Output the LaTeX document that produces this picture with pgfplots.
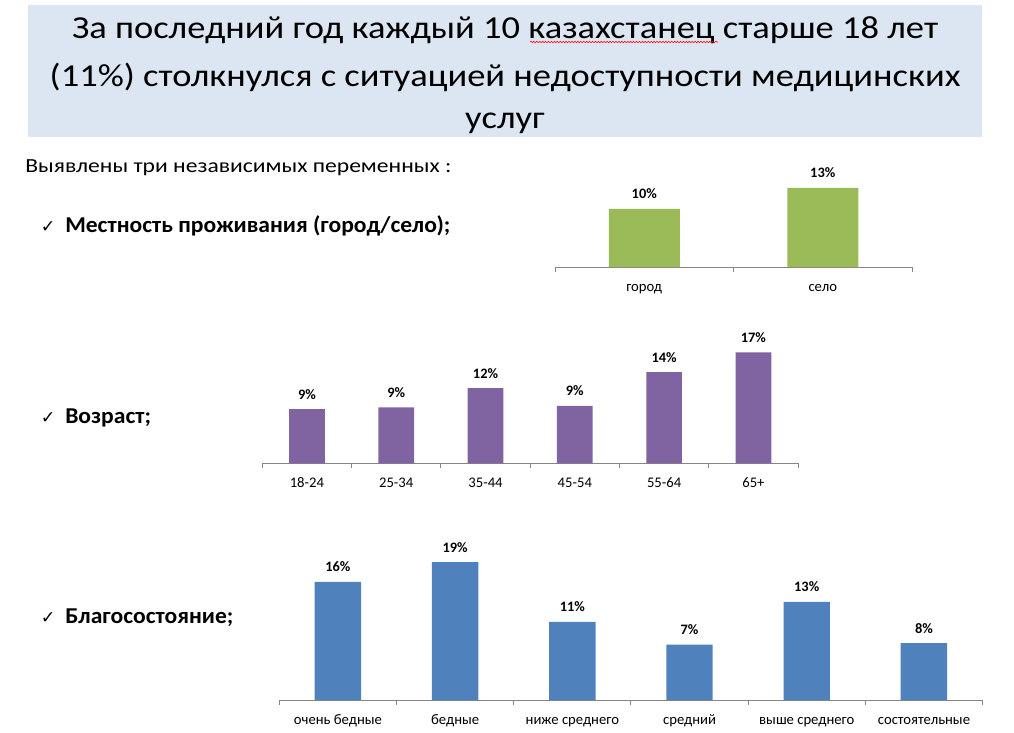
\documentclass[border=0pt]{standalone}
\usepackage{fontspec}
\setmainfont{Carlito}
\newfontfamily\dejavu{DejaVu Sans}
\usepackage{graphicx}
\usepackage{pgfplots}
\pgfplotsset{compat=1.18}
\usetikzlibrary{decorations.pathmorphing}
\definecolor{titlebg}{RGB}{220,230,242}
\definecolor{axisgray}{RGB}{134,134,134}
\definecolor{bargreen}{RGB}{155,187,89}
\definecolor{barpurple}{RGB}{128,100,162}
\definecolor{barblue}{RGB}{79,129,189}
\pgfplotsset{
  catbar/.style={
    ybar, anchor=south west, clip=false,
    ymin=0,
    axis x line*=bottom, axis y line=none,
    axis line style={color=axisgray, line width=0.75pt},
    major tick length=0pt, minor tick length=3.5pt, tick align=outside,
    tick style={color=axisgray, line width=0.75pt},
    xticklabel style={font=\fontsize{11pt}{13pt}\selectfont, anchor=base, yshift=-18pt},
    nodes near coords, point meta=explicit symbolic,
    nodes near coords style={font=\bfseries\fontsize{10.8pt}{12pt}\selectfont, anchor=base, yshift=7.5pt, color=black},
  }
}
\newcommand{\titleline}[1]{\scalebox{1.14}[1]{\fontsize{24pt}{28pt}\selectfont #1}}
\newcommand{\bullettext}[1]{\scalebox{1.04}[1]{\fontsize{17pt}{19pt}\selectfont\bfseries #1}}
\newcommand{\checkmk}{{\dejavu\fontsize{13pt}{15pt}\selectfont ✓}}
\begin{document}
\begin{tikzpicture}
\useasboundingbox (0,0) rectangle (760.5pt,-549pt);
% title box
\fill[titlebg] (21pt,-3.75pt) rectangle (736.5pt,-102.75pt);
\node[anchor=base, inner sep=0pt] at (378.75pt,-28.5pt) {\titleline{За последний год каждый 10 казахстанец старше 18 лет}};
\node[anchor=base, inner sep=0pt] at (378.75pt,-64.5pt) {\titleline{(11\%) столкнулся с ситуацией недоступности медицинских}};
\node[anchor=base, inner sep=0pt] at (378.75pt,-96pt) {\titleline{услуг}};
\draw[red, line width=0.4pt, decorate, decoration={snake, amplitude=0.6pt, segment length=2.2pt}] (397.5pt,-31.5pt) -- (538.5pt,-31.5pt);
% texts
\node[anchor=base west, inner sep=0pt] at (18.75pt,-129pt) {\scalebox{1.18}[1]{\fontsize{15pt}{17pt}\selectfont Выявлены три независимых переменных :}};
\node[anchor=base west, inner sep=0pt] at (30.5pt,-174pt) {\checkmk};
\node[anchor=base west, inner sep=0pt] at (48.75pt,-174pt) {\bullettext{Местность проживания (город/село);}};
\node[anchor=base west, inner sep=0pt] at (30.5pt,-317.25pt) {\checkmk};
\node[anchor=base west, inner sep=0pt] at (48.75pt,-317.25pt) {\bullettext{Возраст;}};
\node[anchor=base west, inner sep=0pt] at (30.5pt,-467.25pt) {\checkmk};
\node[anchor=base west, inner sep=0pt] at (48.75pt,-467.25pt) {\bullettext{Благосостояние;}};

% chart 1: place of residence
\begin{axis}[catbar,
  at={(416.25pt,-200.25pt)},
  x=133.875pt, y=4.5pt, xmin=-0.5, xmax=1.5, ymax=15,
  bar width=53.25pt,
  xtick={0,1}, xticklabels={город,село},
  minor xtick={-0.5,0.5,1.5},
]
\addplot[fill=bargreen, draw=none] coordinates {(0,9.7) [10\%] (1,13.2) [13\%]};
\end{axis}

% chart 2: age
\begin{axis}[catbar,
  at={(196.7pt,-347.5pt)},
  x=66.975pt, y=4.78pt, xmin=-0.5, xmax=5.5, ymax=20,
  bar width=26.8pt,
  xtick={0,1,2,3,4,5}, xticklabels={18-24,25-34,35-44,45-54,55-64,65+},
  minor xtick={-0.5,0.5,1.5,2.5,3.5,4.5,5.5},
]
\addplot[fill=barpurple, draw=none] coordinates {(0,8.5) [9\%] (1,8.8) [9\%] (2,11.8) [12\%] (3,9.0) [9\%] (4,14.3) [14\%] (5,17.4) [17\%]};
\end{axis}

% chart 3: wealth
\begin{axis}[catbar,
  at={(209.5pt,-525pt)},
  x=87.9pt, y=5.535pt, xmin=-0.5, xmax=5.5, ymax=22,
  bar width=34.8pt,
  xtick={0,1,2,3,4,5}, xticklabels={очень бедные,бедные,ниже среднего,средний,выше среднего,состоятельные},
  minor xtick={-0.5,0.5,1.5,2.5,3.5,4.5,5.5},
]
\addplot[fill=barblue, draw=none] coordinates {(0,16.0) [16\%] (1,18.7) [19\%] (2,10.6) [11\%] (3,7.5) [7\%] (4,13.3) [13\%] (5,7.7) [8\%]};
\end{axis}
\end{tikzpicture}
\end{document}
